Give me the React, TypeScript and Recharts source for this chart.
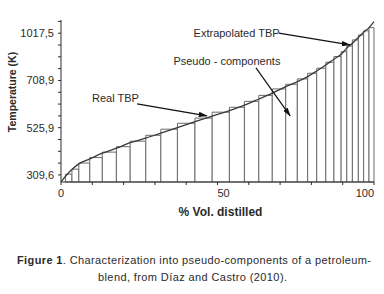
import {
  ComposedChart,
  Line,
  ReferenceArea,
  ReferenceDot,
  ReferenceLine,
  XAxis,
  YAxis,
} from "recharts";

// TBP curve: % vol. distilled vs temperature (K)
const curvePct = [0, 3.3, 5.7, 9.2, 13.2, 17.7, 22.1, 27.1, 31.9, 37.2, 42.8, 48.3, 53.8, 58.6, 63.2, 67.5, 71.8, 75.5, 78.8, 81.7, 84.6, 87.2, 89.5, 91.3, 93.1, 95, 96.7, 98.4, 100];
const curveTemp = [278, 332, 360, 383, 409, 432, 457, 478, 501, 526, 549, 571, 592, 613, 637, 660, 685, 704, 734, 771, 810, 848, 880, 920, 952, 989, 1024, 1054, 1093];

// pseudo-component cuts: boundaries (% vol.) and temperature of each cut
const cutBounds = [1.4, 3.5, 5.7, 9.2, 13.2, 17.7, 22.1, 27.1, 31.9, 37.2, 42.8, 48.3, 53.8, 58.6, 63.2, 67.5, 71.8, 75.5, 78.8, 81.7, 84.6, 87.2, 89.5, 91.3, 93.1, 95, 96.7, 98.4, 100];
const cutTemp = [313, 336, 364, 389, 414, 439, 464, 491, 519, 543, 563, 586, 605, 628, 651, 676, 694, 719, 756, 789, 828, 865, 897, 934, 974, 1006, 1033, 1054];

// y axis: labelled temperatures are evenly spaced on the axis
const yTickTemps = [309.6, 525.9, 708.9, 1017.5];
const yTickLabels = ["309,6", "525,9", "708,9", "1017,5"];
const xTicks = [0, 10, 20, 30, 40, 50, 60, 70, 80, 90, 100];
const xTickLabels: Record<number, string> = { 0: "0", 50: "50", 100: "100" };

const notes = [
  { text: "Real TBP", at: [17.4, 641], from: [24.3, 618], to: [46.6, 572] },
  { text: "Pseudo - components", at: [53, 837], from: [62.3, 791], to: [73.2, 572] },
  { text: "Extrapolated TBP", at: [56.1, 1018], from: [69.6, 1018], to: [92.3, 941] },
];

const Y_MIN = -0.15;
const Y_MAX = 3.28;
const INK = "#2b2b2b";
const FONT = "'Liberation Sans', Arial, sans-serif";

// piecewise-linear position of a temperature on the axis
function toLevel(t: number) {
  const n = yTickTemps.length;
  let i = 0;
  while (i < n - 2 && t > yTickTemps[i + 1]) i++;
  const a = yTickTemps[i];
  const b = yTickTemps[i + 1];
  return i + (t - a) / (b - a);
}

const curveData = curvePct.map((p, i) => ({ pct: p, level: toLevel(curveTemp[i]) }));
const yTicks = Array.from({ length: 14 }, (_, i) => i * 0.25);

function XTick({ x, y, payload }: any) {
  const v = payload.value as number;
  const label = xTickLabels[v];
  if (!label) return null;
  const anchor = v === 0 ? "middle" : v === 50 ? "start" : "end";
  return (
    <text x={x} y={y} dy="0.71em" textAnchor={anchor} fill={INK} fontSize={11}>
      {label}
    </text>
  );
}

export default function App() {
  return (
    <div
      style={{
        position: "absolute",
        left: 0,
        top: 0,
        width: 384,
        height: 294,
        background: "#fff",
        fontFamily: FONT,
        color: INK,
      }}
    >
      <ComposedChart
        width={384}
        height={222}
        data={curveData}
        margin={{ top: 20, right: 10, left: 0, bottom: 0 }}
      >
        <defs>
          <marker
            id="arrowHead"
            viewBox="0 0 10 6"
            refX="9"
            refY="3"
            markerWidth="9"
            markerHeight="6"
            markerUnits="userSpaceOnUse"
            orient="auto"
          >
            <path d="M0,0 L10,3 L0,6 z" fill="#111" />
          </marker>
        </defs>
        <XAxis
          dataKey="pct"
          type="number"
          domain={[0, 100]}
          ticks={xTicks}
          interval={0}
          height={40}
          tickSize={3}
          tickMargin={4}
          stroke={INK}
          tick={<XTick />}
          label={{
            content: ({ viewBox }: any) => (
              <text
                x={viewBox.x + viewBox.width / 2 + 3}
                y={viewBox.y + 30}
                textAnchor="middle"
                dominantBaseline="central"
                fontSize={12}
                fontWeight="bold"
                fill={INK}
              >
                % Vol. distilled
              </text>
            ),
          }}
        />
        <YAxis
          dataKey="level"
          type="number"
          domain={[Y_MIN, Y_MAX]}
          allowDataOverflow
          ticks={yTicks}
          interval={0}
          width={61}
          tickSize={3}
          tickMargin={4}
          stroke={INK}
          tick={{ fill: INK, fontSize: 11 }}
          tickFormatter={(v: number) =>
            Number.isInteger(v) && yTickLabels[v] ? yTickLabels[v] : ""
          }
          label={{
            content: ({ viewBox }: any) => {
              const cx = 12;
              const cy = viewBox.y + viewBox.height / 2 - 9;
              return (
                <text
                  x={cx}
                  y={cy}
                  transform={`rotate(-90 ${cx} ${cy})`}
                  textAnchor="middle"
                  dominantBaseline="central"
                  fontSize={10.5}
                  fontWeight="bold"
                  fill={INK}
                >
                  Temperature (K)
                </text>
              );
            },
          }}
        />
        {cutTemp.map((t, i) => (
          <ReferenceArea
            key={i}
            x1={cutBounds[i]}
            x2={cutBounds[i + 1]}
            y1={Y_MIN}
            y2={toLevel(t)}
            fill="#fff"
            fillOpacity={1}
            stroke="#6b6b6b"
            strokeWidth={1}
            ifOverflow="visible"
          />
        ))}
        <Line
          type="monotone"
          dataKey="level"
          stroke="#3a3a3a"
          strokeWidth={1.3}
          dot={false}
          isAnimationActive={false}
        />
        {notes.map((n) => (
          <ReferenceLine
            key={n.text + "-arrow"}
            segment={[
              { x: n.from[0], y: toLevel(n.from[1]) },
              { x: n.to[0], y: toLevel(n.to[1]) },
            ]}
            stroke="#111"
            strokeWidth={1.2}
            markerEnd="url(#arrowHead)"
            ifOverflow="visible"
          />
        ))}
        {notes.map((n) => (
          <ReferenceDot
            key={n.text}
            x={n.at[0]}
            y={toLevel(n.at[1])}
            r={0}
            fill="none"
            stroke="none"
            ifOverflow="visible"
            label={{ value: n.text, position: "center", fill: INK, fontSize: 11 }}
          />
        ))}
      </ComposedChart>
      <svg
        width={384}
        height={72}
        style={{ position: "absolute", left: 0, top: 222 }}
      >
        <text
          x={194}
          y={38}
          textAnchor="middle"
          dominantBaseline="central"
          fontSize={11}
          fill={INK}
          textLength={354}
          lengthAdjust="spacing"
        >
          <tspan fontWeight="bold">Figure 1</tspan>. Characterization into pseudo-components of a petroleum-
        </text>
        <text
          x={192.5}
          y={55}
          textAnchor="middle"
          dominantBaseline="central"
          fontSize={11}
          fill={INK}
          textLength={189}
          lengthAdjust="spacing"
        >
          blend, from Díaz and Castro (2010).
        </text>
      </svg>
    </div>
  );
}
